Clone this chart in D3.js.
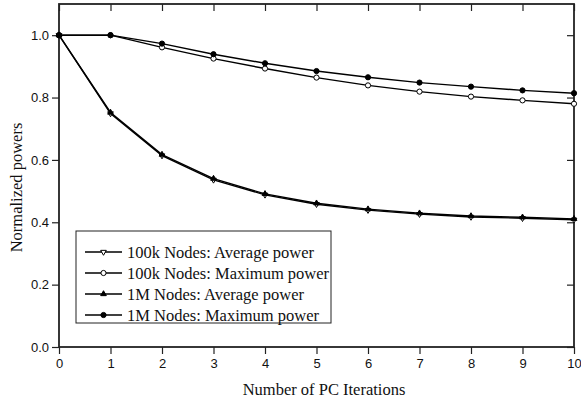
<!DOCTYPE html>
<html>
<head>
<meta charset="utf-8">
<script src="https://cdn.jsdelivr.net/npm/d3@7.9.0/dist/d3.min.js"></script>
<style>
  body { margin: 0; background: #fff; }
  svg { display: block; }
  .tick text { font-family: "Liberation Sans", Arial, sans-serif; font-size: 13px; fill: #111; }
  .title { font-family: "Liberation Serif", "Times New Roman", serif; font-size: 16.5px; fill: #111; }
  .legend text { font-family: "Liberation Serif", "Times New Roman", serif; font-size: 16.5px; fill: #111; }
</style>
</head>
<body>
<svg id="chart" width="581" height="400"></svg>
<script>
// data
const iterations = [0, 1, 2, 3, 4, 5, 6, 7, 8, 9, 10];
const avg100k = [1.0, 0.749, 0.614, 0.536, 0.488, 0.458, 0.439, 0.426, 0.417, 0.413, 0.408];
const max100k = [1.0, 1.0, 0.961, 0.925, 0.893, 0.864, 0.839, 0.819, 0.803, 0.791, 0.780];
const avg1M = [1.0, 0.752, 0.617, 0.540, 0.491, 0.461, 0.442, 0.429, 0.420, 0.416, 0.411];
const max1M = [1.0, 1.0, 0.973, 0.939, 0.910, 0.885, 0.865, 0.848, 0.835, 0.823, 0.814];
const seriesNames = ['100k Nodes: Average power', '100k Nodes: Maximum power', '1M Nodes: Average power', '1M Nodes: Maximum power'];
const yTicks = [0.0, 0.2, 0.4, 0.6, 0.8, 1.0];

const series = [
  { name: seriesNames[0], values: avg100k, symbol: 'down', fill: '#fff' },
  { name: seriesNames[1], values: max100k, symbol: 'circle', fill: '#fff' },
  { name: seriesNames[2], values: avg1M, symbol: 'up', fill: '#000' },
  { name: seriesNames[3], values: max1M, symbol: 'circle', fill: '#000' },
];

const W = 581, H = 400;
const margin = { top: 4, right: 7, bottom: 53, left: 59 };
const svg = d3.select('#chart');

const x = d3.scaleLinear().domain([0, 10]).range([margin.left, W - margin.right]);
const y = d3.scaleLinear().domain([0, 1.1]).range([H - margin.bottom, margin.top]);

// axes: outward ticks bottom/left, inward ticks top/right
svg.append('g')
  .attr('transform', `translate(0,${H - margin.bottom})`)
  .call(d3.axisBottom(x).tickValues(iterations).tickFormat(d3.format('d')).tickSize(7).tickPadding(5));
svg.append('g')
  .attr('transform', `translate(0,${margin.top})`)
  .call(d3.axisBottom(x).tickValues(iterations).tickFormat('').tickSize(7));
svg.append('g')
  .attr('transform', `translate(${margin.left},0)`)
  .call(d3.axisLeft(y).tickValues(yTicks).tickFormat(d3.format('.1f')).tickSize(7).tickPadding(3));
svg.append('g')
  .attr('transform', `translate(${W - margin.right},0)`)
  .call(d3.axisRight(y).tickValues(yTicks).tickFormat('').tickSize(-7));

svg.selectAll('.domain').remove();
svg.selectAll('.tick line').attr('stroke', '#222').attr('stroke-width', 1.2);

// frame
svg.append('rect')
  .attr('x', margin.left).attr('y', margin.top)
  .attr('width', W - margin.left - margin.right)
  .attr('height', H - margin.top - margin.bottom)
  .attr('fill', 'none').attr('stroke', '#222').attr('stroke-width', 1.8);

// lines
const line = d3.line()
  .x((d, i) => x(iterations[i]))
  .y(d => y(d));

function marker(g, s, cx, cy) {
  if (s.symbol === 'circle') {
    g.append('circle').attr('cx', cx).attr('cy', cy).attr('r', 2.6)
      .attr('fill', s.fill).attr('stroke', '#000').attr('stroke-width', 1);
  } else {
    const path = d3.symbol().type(d3.symbolTriangle).size(14)();
    g.append('path').attr('d', path)
      .attr('transform', `translate(${cx},${cy})` + (s.symbol === 'down' ? ' rotate(180)' : ''))
      .attr('fill', s.fill).attr('stroke', '#000').attr('stroke-width', 1);
  }
}

series.forEach(s => {
  svg.append('path')
    .datum(s.values)
    .attr('d', line)
    .attr('fill', 'none')
    .attr('stroke', '#000')
    .attr('stroke-width', 1.4);
  const g = svg.append('g');
  s.values.forEach((v, i) => marker(g, s, x(iterations[i]), y(v)));
});

// legend
const legend = svg.append('g').attr('class', 'legend');
legend.append('rect')
  .attr('x', 76).attr('y', 231).attr('width', 255).attr('height', 92)
  .attr('fill', '#fff').attr('stroke', '#222').attr('stroke-width', 1);
series.forEach((s, i) => {
  const ly = 252 + i * 21;
  legend.append('line')
    .attr('x1', 85).attr('x2', 122).attr('y1', ly).attr('y2', ly)
    .attr('stroke', '#000').attr('stroke-width', 1.4);
  marker(legend, s, 103.5, ly);
  legend.append('text')
    .attr('x', 127).attr('y', ly).attr('dy', '0.35em')
    .text(s.name);
});

// titles
svg.append('text').attr('class', 'title')
  .attr('x', 324).attr('y', 395)
  .attr('text-anchor', 'middle')
  .text('Number of PC Iterations');
svg.append('text').attr('class', 'title')
  .attr('transform', `translate(22,187.5) rotate(-90)`)
  .attr('text-anchor', 'middle')
  .text('Normalized powers');
</script>
</body>
</html>
